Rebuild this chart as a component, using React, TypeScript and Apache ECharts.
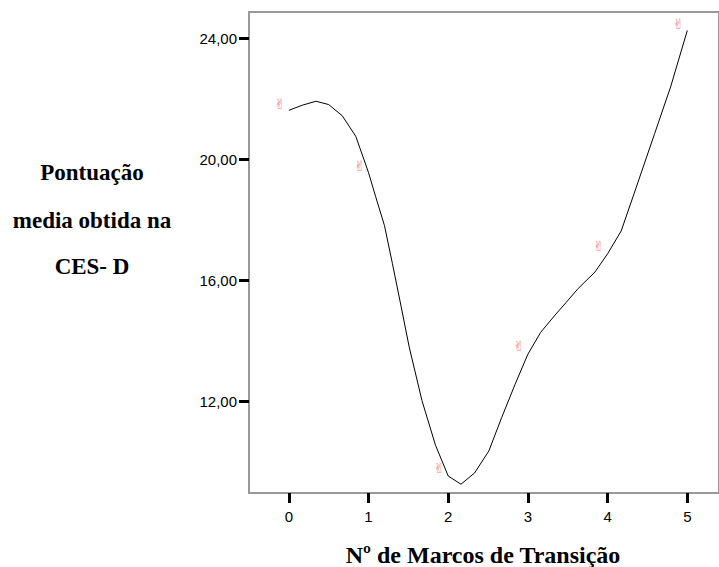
import React, { useEffect, useRef } from "react";
import * as echarts from "echarts";

const xTicks = [0, 1, 2, 3, 4, 5];
const yTicks = [12, 16, 20, 24];
const markerX = [0, 1, 2, 3, 4, 5];
const markerY = [21.81, 19.77, 9.78, 13.82, 17.12, 24.45];
const fitX = [0.0, 0.17, 0.34, 0.5, 0.67, 0.84, 1.0, 1.09, 1.2, 1.3, 1.41, 1.51, 1.67, 1.84, 2.0, 2.16, 2.33, 2.51, 2.67, 2.84, 3.0, 3.16, 3.34, 3.48, 3.63, 3.84, 4.0, 4.17, 4.36, 4.59, 4.79, 5.0];
const fitY = [21.61, 21.78, 21.91, 21.8, 21.43, 20.75, 19.55, 18.75, 17.8, 16.54, 15.11, 13.79, 12.02, 10.54, 9.52, 9.25, 9.62, 10.35, 11.45, 12.56, 13.55, 14.27, 14.84, 15.26, 15.72, 16.26, 16.87, 17.62, 19.07, 20.84, 22.38, 24.25];
const yTitleLines = ["Pontuação", "media obtida na", "CES- D"];
const xTitle = "Nº de Marcos de Transição";

export default function App() {
  const ref = useRef<HTMLDivElement>(null);
  useEffect(() => {
    if (!ref.current) return;
    const chart = echarts.init(ref.current, null, { renderer: "svg" });
    const serif = "'Liberation Serif', 'Times New Roman', serif";
    const sans = "'Liberation Sans', Arial, sans-serif";
    chart.setOption({
      animation: false,
      backgroundColor: "#ffffff",
      grid: {
        left: 249,
        top: 12,
        right: -3,
        bottom: 74,
        show: true,
        borderColor: "#999999",
        borderWidth: 2,
        backgroundColor: "transparent",
      },
      xAxis: {
        type: "value",
        min: -0.5,
        max: -0.5 + 473 / 80.2,
        splitLine: { show: false },
        axisLine: { show: true, onZero: false, lineStyle: { color: "#999999", width: 2 } },
        axisTick: {
          show: true,
          inside: false,
          length: 10,
          customValues: xTicks,
          lineStyle: { color: "#000000", width: 3 },
        },
        axisLabel: {
          customValues: xTicks,
          color: "#000000",
          fontFamily: sans,
          fontSize: 15,
          margin: 16,
          formatter: (v: number) => String(v),
        },
      },
      yAxis: {
        type: "value",
        min: 8.96,
        max: 24.86,
        splitLine: { show: false },
        axisLine: { show: true, onZero: false, lineStyle: { color: "#999999", width: 2 } },
        axisTick: {
          show: true,
          inside: false,
          length: 10,
          customValues: yTicks,
          lineStyle: { color: "#000000", width: 3 },
        },
        axisLabel: {
          customValues: yTicks,
          color: "#000000",
          fontFamily: sans,
          fontSize: 15,
          margin: 12,
          formatter: (v: number) => v.toFixed(2).replace(".", ","),
        },
      },
      series: [
        {
          type: "line",
          data: fitX.map((x, i) => [x, fitY[i]]),
          showSymbol: false,
          smooth: false,
          lineStyle: { color: "#000000", width: 1 },
          z: 2,
        },
        {
          type: "scatter",
          data: markerX.map((x, i) => [x, markerY[i]]),
          symbolSize: 0,
          label: {
            show: true,
            position: "inside",
            offset: [-9, 0],
            formatter: () => "✌",
            color: "#ec5f5f",
            fontFamily: "'DejaVu Sans'",
            fontSize: 14,
          },
          z: 3,
        },
      ],
      graphic: [
        ...yTitleLines.map((t, i) => ({
          type: "text",
          x: 92,
          y: [172, 220, 266][i],
          style: {
            text: t,
            fontFamily: serif,
            fontWeight: "bold",
            fontSize: 23,
            fill: "#000000",
            align: "center",
            verticalAlign: "middle",
          },
        })),
        {
          type: "text",
          x: 483,
          y: 555,
          style: {
            text: xTitle,
            fontFamily: serif,
            fontWeight: "bold",
            fontSize: 24,
            fill: "#000000",
            align: "center",
            verticalAlign: "middle",
          },
        },
      ],
    });
    return () => chart.dispose();
  }, []);
  return (
    <div
      ref={ref}
      style={{ position: "fixed", left: 0, top: 0, width: 719, height: 567 }}
    />
  );
}
